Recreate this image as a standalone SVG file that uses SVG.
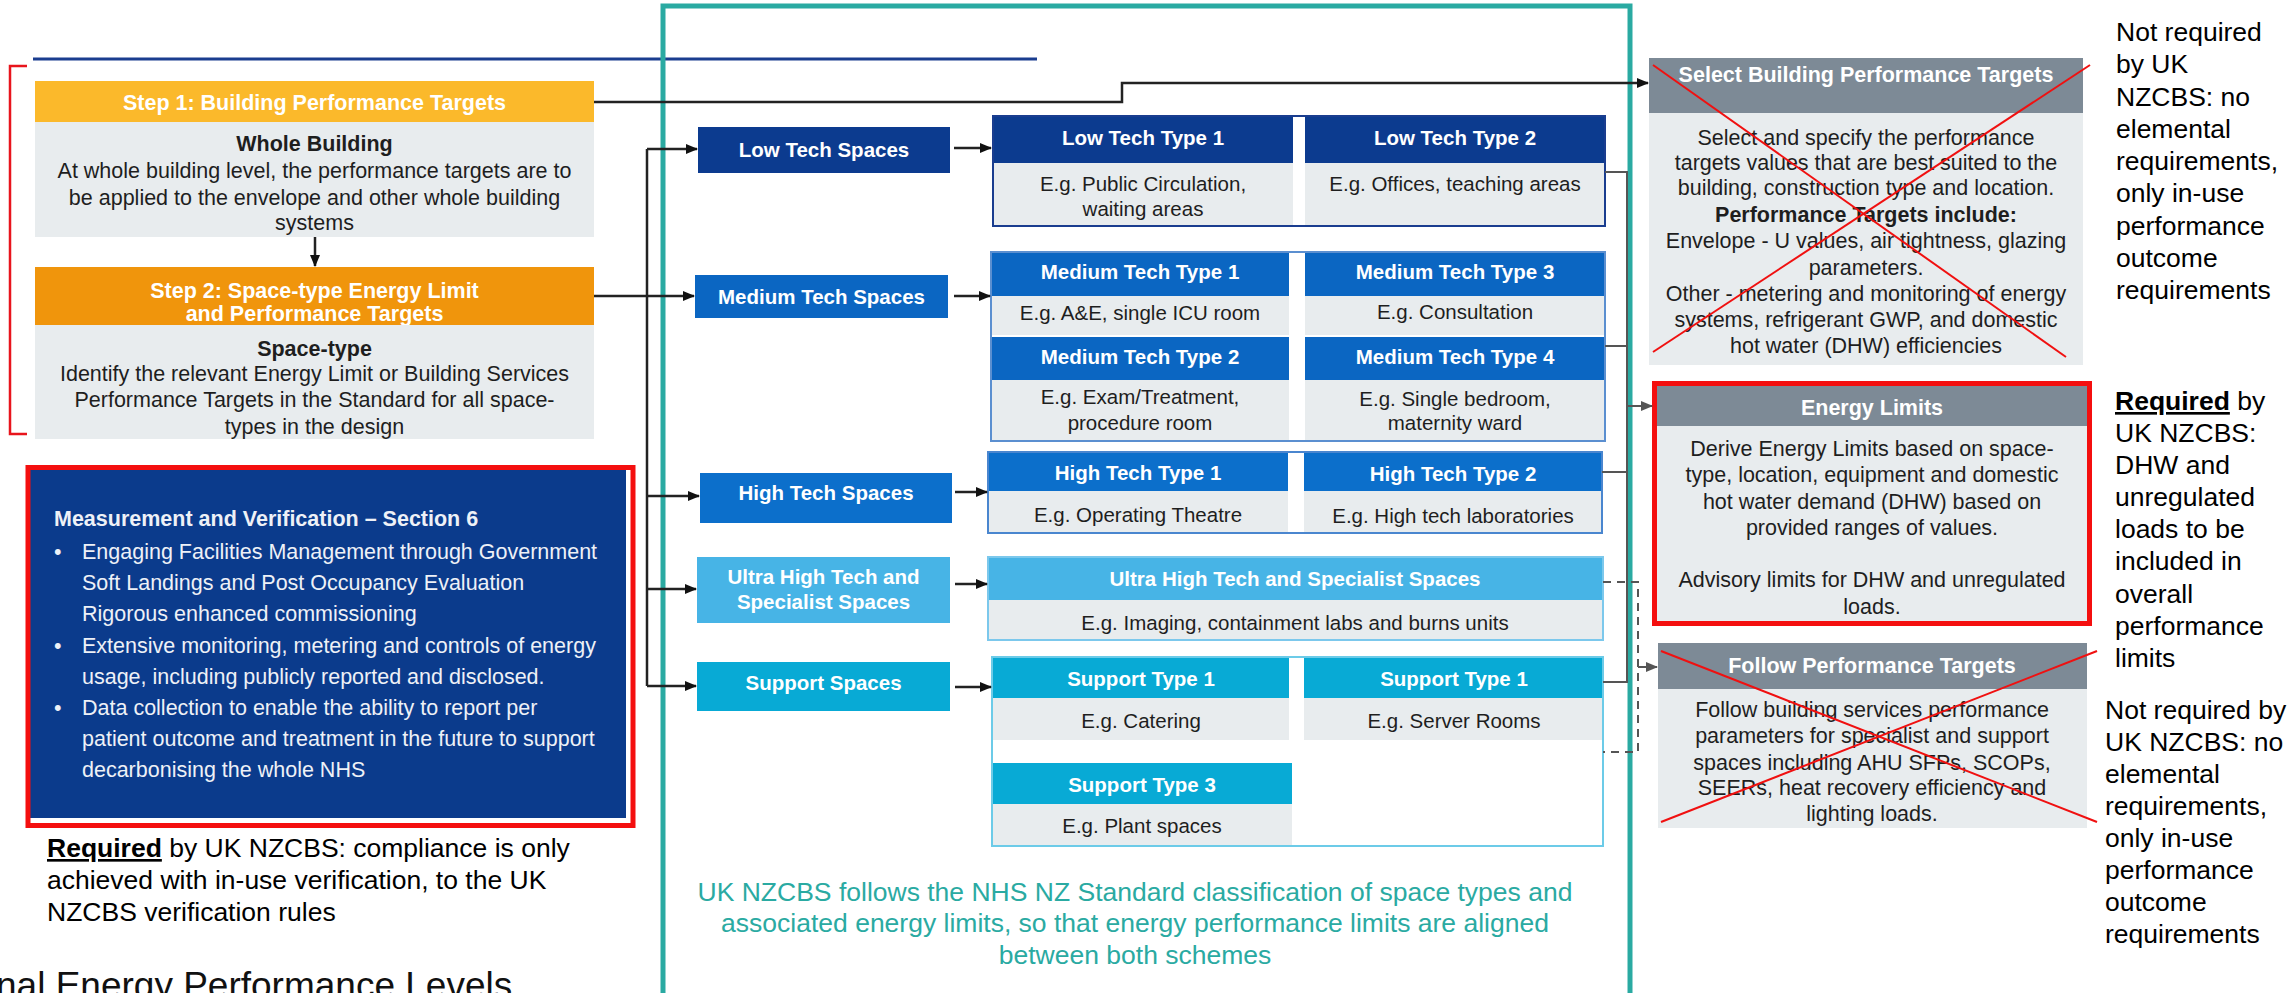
<svg xmlns="http://www.w3.org/2000/svg" width="2296" height="993" viewBox="0 0 2296 993">
<defs>
<style>
text{font-family:"Liberation Sans",Arial,sans-serif}
.hw{fill:#fff;font-weight:bold;font-size:20.5px;text-anchor:middle}
.hs{fill:#fff;font-weight:bold;font-size:21.5px;text-anchor:middle}
.bd{fill:#1e1e1e;font-size:20.5px;text-anchor:middle}
.bs{fill:#1e1e1e;font-size:21.5px;text-anchor:middle}
.bb{fill:#1e1e1e;font-size:21.5px;text-anchor:middle;font-weight:bold}
.mv{fill:#eef1f7;font-size:21.5px}
.an{fill:#000;font-size:26.5px}
.tl{fill:#2aaaa2;font-size:26.5px;text-anchor:middle}
.grey{fill:#e8ecee}
.navy{fill:#0c3b8f}
.med{fill:#0b66c2}
.high{fill:#0c6fcb}
.ultra{fill:#47b4e6}
.sup{fill:#08aad5}
.rh{fill:#7d8a96}
.gap{fill:#fff}
.con{fill:none;stroke:#222;stroke-width:2.5}
.cong{fill:none;stroke:#555;stroke-width:2}
.dash{fill:none;stroke:#555;stroke-width:2;stroke-dasharray:8 6}
.x{stroke:#f01010;stroke-width:2}
</style>
<marker id="ah" markerWidth="12" markerHeight="12" refX="11" refY="6" orient="auto" markerUnits="userSpaceOnUse">
<path d="M0,1 L12,6 L0,11 Z" fill="#111"/>
</marker>
<marker id="ahg" markerWidth="12" markerHeight="12" refX="11" refY="6" orient="auto" markerUnits="userSpaceOnUse">
<path d="M0,1 L12,6 L0,11 Z" fill="#555"/>
</marker>
</defs>
<rect width="2296" height="993" fill="#fff"/>

<!-- top rule and bracket -->
<path d="M33,59 H1037" stroke="#1a3d8f" stroke-width="3" fill="none"/>
<path d="M27,66 H10 V434 H27" stroke="#e8141c" stroke-width="2.5" fill="none"/>

<!-- teal frame -->
<rect id="teal-frame" x="663" y="6" width="967" height="1010" fill="none" stroke="#2aaaa2" stroke-width="5"/>

<g id="step1">
<rect x="35" y="81" width="559" height="41" fill="#fbb92b"/>
<text class="hs" x="314.5" y="109.5">Step 1: Building Performance Targets</text>
<rect x="35" y="122" width="559" height="115" class="grey"/>
<text class="bb" x="314.5" y="151">Whole Building</text>
<text class="bs" x="314.5" y="177.5">At whole building level, the performance targets are to</text>
<text class="bs" x="314.5" y="204.5">be applied to the envelope and other whole building</text>
<text class="bs" x="314.5" y="229.5">systems</text>
</g>

<g id="step2">
<rect x="35" y="267" width="559" height="58" fill="#f0950c"/>
<text class="hs" x="314.5" y="297.5">Step 2: Space-type Energy Limit</text>
<text class="hs" x="314.5" y="320.5">and Performance Targets</text>
<rect x="35" y="325" width="559" height="114" class="grey"/>
<text class="bb" x="314.5" y="355.5">Space-type</text>
<text class="bs" x="314.5" y="380.5">Identify the relevant Energy Limit or Building Services</text>
<text class="bs" x="314.5" y="406.5">Performance Targets in the Standard for all space-</text>
<text class="bs" x="314.5" y="433.5">types in the design</text>
</g>

<g id="mv">
<rect x="30" y="470" width="596" height="348" fill="#0b3b8c"/>
<rect x="28" y="467.5" width="605" height="358" fill="none" stroke="#f40f0f" stroke-width="5"/>
<text class="mv" x="54" y="526" font-weight="bold" fill="#fff">Measurement and Verification – Section 6</text>
<text class="mv" x="54" y="559">•</text>
<text class="mv" x="82" y="559">Engaging Facilities Management through Government</text>
<text class="mv" x="82" y="590">Soft Landings and Post Occupancy Evaluation</text>
<text class="mv" x="82" y="621">Rigorous enhanced commissioning</text>
<text class="mv" x="54" y="653">•</text>
<text class="mv" x="82" y="653">Extensive monitoring, metering and controls of energy</text>
<text class="mv" x="82" y="684">usage, including publicly reported and disclosed.</text>
<text class="mv" x="54" y="715">•</text>
<text class="mv" x="82" y="715">Data collection to enable the ability to report per</text>
<text class="mv" x="82" y="746">patient outcome and treatment in the future to support</text>
<text class="mv" x="82" y="777">decarbonising the whole NHS</text>
</g>

<g id="note-mv">
<text class="an" x="47" y="857"><tspan font-weight="bold" style="text-decoration:underline">Required</tspan> by UK NZCBS: compliance is only</text>
<text class="an" x="47" y="889">achieved with in-use verification, to the UK</text>
<text class="an" x="47" y="921">NZCBS verification rules</text>
</g>

<text id="cut-title" x="-4" y="998" font-size="37px" fill="#111">nal Energy Performance Levels</text>

<!-- space categories -->
<g id="low-spaces"><rect x="698" y="127" width="252" height="46" class="navy"/><text class="hw" x="824" y="157">Low Tech Spaces</text></g>
<g id="medium-spaces"><rect x="695" y="275" width="253" height="43" class="med"/><text class="hw" x="821.5" y="303.5">Medium Tech Spaces</text></g>
<g id="high-spaces"><rect x="700" y="473" width="252" height="50" class="high"/><text class="hw" x="826" y="500">High Tech Spaces</text></g>
<g id="ultra-spaces"><rect x="697" y="557" width="253" height="66" class="ultra"/><text class="hw" x="823.5" y="584">Ultra High Tech and</text><text class="hw" x="823.5" y="609">Specialist Spaces</text></g>
<g id="support-spaces"><rect x="697" y="662" width="253" height="49" class="sup"/><text class="hw" x="823.5" y="690">Support Spaces</text></g>

<!-- low tech types -->
<g id="low-types">
<rect x="993" y="116" width="612" height="110" class="grey"/>
<rect x="993" y="116" width="300" height="47" class="navy"/>
<rect x="1305" y="116" width="300" height="47" class="navy"/>
<rect x="1293" y="116" width="12" height="109" class="gap"/>
<rect x="993" y="116" width="612" height="110" fill="none" stroke="#1a3d8f" stroke-width="2"/>
<text class="hw" x="1143" y="145">Low Tech Type 1</text>
<text class="hw" x="1455" y="145">Low Tech Type 2</text>
<text class="bd" x="1143" y="191">E.g. Public Circulation,</text>
<text class="bd" x="1143" y="216">waiting areas</text>
<text class="bd" x="1455" y="191">E.g. Offices, teaching areas</text>
</g>

<g id="medium-types">
<rect x="991" y="252" width="614" height="189" class="grey"/>
<rect x="991" y="252" width="298" height="44" class="med"/>
<rect x="1305" y="252" width="300" height="44" class="med"/>
<rect x="991" y="335" width="614" height="2" class="gap"/>
<rect x="991" y="337" width="298" height="43" class="med"/>
<rect x="1305" y="337" width="300" height="43" class="med"/>
<rect x="1289" y="252" width="16" height="188" class="gap"/>
<rect x="991" y="252" width="614" height="189" fill="none" stroke="#5b8fd0" stroke-width="2"/>
<text class="hw" x="1140" y="279">Medium Tech Type 1</text>
<text class="bd" x="1140" y="320">E.g. A&amp;E, single ICU room</text>
<text class="hw" x="1140" y="364">Medium Tech Type 2</text>
<text class="bd" x="1140" y="404">E.g. Exam/Treatment,</text>
<text class="bd" x="1140" y="430">procedure room</text>
<text class="hw" x="1455" y="279">Medium Tech Type 3</text>
<text class="bd" x="1455" y="319">E.g. Consultation</text>
<text class="hw" x="1455" y="364">Medium Tech Type 4</text>
<text class="bd" x="1455" y="406">E.g. Single bedroom,</text>
<text class="bd" x="1455" y="430">maternity ward</text>
</g>

<g id="high-types">
<rect x="988" y="452" width="614" height="81" class="grey"/>
<rect x="988" y="452" width="300" height="39" class="high"/>
<rect x="1304" y="452" width="298" height="39" class="high"/>
<rect x="1288" y="452" width="16" height="80" class="gap"/>
<rect x="988" y="452" width="614" height="81" fill="none" stroke="#4a86cf" stroke-width="2"/>
<text class="hw" x="1138" y="480">High Tech Type 1</text>
<text class="bd" x="1138" y="522">E.g. Operating Theatre</text>
<text class="hw" x="1453" y="481">High Tech Type 2</text>
<text class="bd" x="1453" y="523">E.g. High tech laboratories</text>
</g>

<g id="ultra-types">
<rect x="988" y="557" width="615" height="83" class="grey"/>
<rect x="988" y="557" width="615" height="43" class="ultra"/>
<rect x="988" y="557" width="615" height="83" fill="none" stroke="#7cc8ec" stroke-width="2"/>
<text class="hw" x="1295" y="586">Ultra High Tech and Specialist Spaces</text>
<text class="bd" x="1295" y="630">E.g. Imaging, containment labs and burns units</text>
</g>

<g id="support-types">
<rect x="992" y="657" width="611" height="189" fill="#fff"/>
<rect x="992" y="698" width="297" height="42" class="grey"/>
<rect x="1304" y="698" width="299" height="42" class="grey"/>
<rect x="992" y="657" width="297" height="41" class="sup"/>
<rect x="1304" y="657" width="299" height="41" class="sup"/>
<rect x="992" y="804" width="300" height="41" class="grey"/>
<rect x="992" y="763" width="300" height="41" class="sup"/>
<rect x="992" y="657" width="611" height="189" fill="none" stroke="#6ccbe8" stroke-width="2"/>
<text class="hw" x="1141" y="686">Support Type 1</text>
<text class="bd" x="1141" y="728">E.g. Catering</text>
<text class="hw" x="1454" y="686">Support Type 1</text>
<text class="bd" x="1454" y="728">E.g. Server Rooms</text>
<text class="hw" x="1142" y="792">Support Type 3</text>
<text class="bd" x="1142" y="833">E.g. Plant spaces</text>
</g>

<text id="teal-note" class="tl"><tspan x="1135" y="901">UK NZCBS follows the NHS NZ Standard classification of space types and</tspan><tspan x="1135" y="932">associated energy limits, so that energy performance limits are aligned</tspan><tspan x="1135" y="964">between both schemes</tspan></text>

<!-- right column -->
<g id="select-targets">
<rect x="1649" y="58" width="434" height="307" class="grey"/>
<rect x="1649" y="58" width="434" height="55" class="rh"/>
<text class="hs" x="1866" y="81.5">Select Building Performance Targets</text>
<text class="bs" x="1866" y="144.5">Select and specify the performance</text>
<text class="bs" x="1866" y="169.5">targets values that are best suited to the</text>
<text class="bs" x="1866" y="194.5">building, construction type and location.</text>
<text class="bb" x="1866" y="221.5">Performance Targets include:</text>
<text class="bs" x="1866" y="247.5">Envelope - U values, air tightness, glazing</text>
<text class="bs" x="1866" y="274.5">parameters.</text>
<text class="bs" x="1866" y="300.5">Other - metering and monitoring of energy</text>
<text class="bs" x="1866" y="326.5">systems, refrigerant GWP, and domestic</text>
<text class="bs" x="1866" y="352.5">hot water (DHW) efficiencies</text>
<line class="x" x1="1653" y1="65" x2="2066" y2="357"/>
<line class="x" x1="2090" y1="65" x2="1653" y2="352"/>
</g>

<g id="energy-limits">
<rect x="1655" y="384" width="434" height="239" class="grey"/>
<rect x="1655" y="386" width="434" height="40" class="rh"/>
<rect x="1654.5" y="383.5" width="435" height="240" fill="none" stroke="#f40f0f" stroke-width="5"/>
<text class="hs" x="1872" y="414.5">Energy Limits</text>
<text class="bs" x="1872" y="455.5">Derive Energy Limits based on space-</text>
<text class="bs" x="1872" y="481.5">type, location, equipment and domestic</text>
<text class="bs" x="1872" y="508.5">hot water demand (DHW) based on</text>
<text class="bs" x="1872" y="534.5">provided ranges of values.</text>
<text class="bs" x="1872" y="586.5">Advisory limits for DHW and unregulated</text>
<text class="bs" x="1872" y="613.5">loads.</text>
</g>

<g id="follow-targets">
<rect x="1658" y="643" width="429" height="185" class="grey"/>
<rect x="1658" y="643" width="429" height="46" class="rh"/>
<text class="hs" x="1872" y="672.5">Follow Performance Targets</text>
<text class="bs" x="1872" y="716.5">Follow building services performance</text>
<text class="bs" x="1872" y="742.5">parameters for specialist and support</text>
<text class="bs" x="1872" y="769.5">spaces including AHU SFPs, SCOPs,</text>
<text class="bs" x="1872" y="794.5">SEERs, heat recovery efficiency and</text>
<text class="bs" x="1872" y="820.5">lighting loads.</text>
<line class="x" x1="1661" y1="651" x2="2097" y2="822"/>
<line class="x" x1="2097" y1="651" x2="1661" y2="822"/>
</g>

<g id="note-not-required-1">
<text class="an" x="2116" y="41">Not required</text>
<text class="an" x="2116" y="73">by UK</text>
<text class="an" x="2116" y="105.5">NZCBS: no</text>
<text class="an" x="2116" y="138">elemental</text>
<text class="an" x="2116" y="170">requirements,</text>
<text class="an" x="2116" y="202">only in-use</text>
<text class="an" x="2116" y="234.5">performance</text>
<text class="an" x="2116" y="267">outcome</text>
<text class="an" x="2116" y="299">requirements</text>
</g>
<g id="note-required">
<text class="an" x="2115" y="410"><tspan font-weight="bold" style="text-decoration:underline">Required</tspan> by</text>
<text class="an" x="2115" y="442">UK NZCBS:</text>
<text class="an" x="2115" y="474">DHW and</text>
<text class="an" x="2115" y="506">unregulated</text>
<text class="an" x="2115" y="538">loads to be</text>
<text class="an" x="2115" y="570">included in</text>
<text class="an" x="2115" y="603">overall</text>
<text class="an" x="2115" y="635">performance</text>
<text class="an" x="2115" y="667">limits</text>
</g>
<g id="note-not-required-2">
<text class="an" x="2105" y="719">Not required by</text>
<text class="an" x="2105" y="751">UK NZCBS: no</text>
<text class="an" x="2105" y="783">elemental</text>
<text class="an" x="2105" y="815">requirements,</text>
<text class="an" x="2105" y="847">only in-use</text>
<text class="an" x="2105" y="879">performance</text>
<text class="an" x="2105" y="911">outcome</text>
<text class="an" x="2105" y="943">requirements</text>
</g>

<g id="connectors">
<path class="con" d="M315,237 V266" marker-end="url(#ah)"/>
<path class="con" d="M594,102 H1122 V83 H1648" marker-end="url(#ah)"/>
<path class="con" d="M594,296 H694" marker-end="url(#ah)"/>
<path class="con" d="M647,149 V686"/>
<path class="con" d="M647,149 H697" marker-end="url(#ah)"/>
<path class="con" d="M647,496 H699" marker-end="url(#ah)"/>
<path class="con" d="M647,589 H696" marker-end="url(#ah)"/>
<path class="con" d="M647,686 H696" marker-end="url(#ah)"/>
<path class="con" d="M954,148 H991" marker-end="url(#ah)"/>
<path class="con" d="M954,296 H990" marker-end="url(#ah)"/>
<path class="con" d="M955,492 H987" marker-end="url(#ah)"/>
<path class="con" d="M955,584 H987" marker-end="url(#ah)"/>
<path class="con" d="M955,687 H991" marker-end="url(#ah)"/>
<path class="cong" d="M1605,172 H1627 M1605,346 H1627 M1602,472 H1627 M1603,682 H1627 M1627,171 V683"/>
<path class="cong" d="M1627,406 H1652" marker-end="url(#ahg)"/>
<path class="dash" d="M1603,582 H1638 V752 H1603"/>
<path class="dash" d="M1638,667 H1657" marker-end="url(#ahg)"/>
</g>
</svg>
